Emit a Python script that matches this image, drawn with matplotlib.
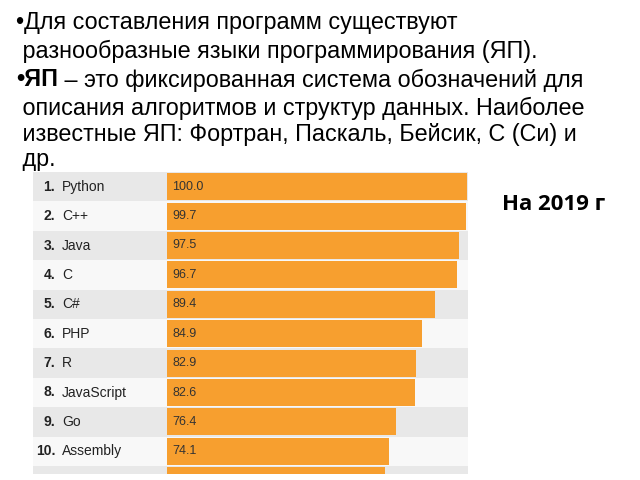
import matplotlib
matplotlib.use('Agg')
from matplotlib import pyplot as plt

# данные рейтинга языков (2019)
ranks = ['1.', '2.', '3.', '4.', '5.', '6.', '7.', '8.', '9.', '10.', '']
languages = ['Python', 'C++', 'Java', 'C', 'C#', 'PHP', 'R', 'JavaScript', 'Go', 'Assembly', '']
scores = [100.0, 99.7, 97.5, 96.7, 89.4, 84.9, 82.9, 82.6, 76.4, 74.1, 72.8]
score_labels = ['100.0', '99.7', '97.5', '96.7', '89.4', '84.9', '82.9', '82.6', '76.4', '74.1', '']

text_lines = [
    ('•Для составления программ существуют', False),
    (' разнообразные языки программирования (ЯП).', False),
    ('•ЯП', True),
    (' описания алгоритмов и структур данных. Наиболее', False),
    (' известные ЯП: Фортран, Паскаль, Бейсик, С (Си) и', False),
    (' др.', False),
]

fonts = ['Liberation Sans', 'DejaVu Sans']
bar_color = '#F79F2F'

fig = plt.figure(figsize=(6.4, 4.8), dpi=100)
fig.patch.set_facecolor('white')

# текст сверху
y_px = [22, 51, 80, 108, 135, 160]
fs = 16.8
for (txt, bold), yp in zip(text_lines, y_px):
    y = 1 - yp / 480
    if bold:
        t = fig.text(16 / 640, y, txt, fontsize=fs, fontweight='bold', family=fonts,
                     va='center', ha='left')
        fig.canvas.draw()
        bb = t.get_window_extent()
        fig.text(bb.x1 / 640, y, ' – это фиксированная система обозначений для',
                 fontsize=fs, family=fonts, va='center', ha='left')
    else:
        fig.text(16 / 640, y, txt, fontsize=fs, family=fonts, va='center', ha='left')

fig.text(554 / 640, 1 - 205 / 480, 'На 2019 г', fontsize=16, fontweight='bold',
         family=['Open Sans', 'DejaVu Sans'], va='center', ha='center')

# таблица с полосами
ax = fig.add_axes([33 / 640, 1 - 474 / 480, 435 / 640, 302 / 480])
ax.set_zorder(5)
n = len(scores)
pos = list(range(n))
for i in pos:
    ax.axhspan(i - 0.5, i + 0.5, color='#e8e8e8' if i % 2 == 0 else '#f8f8f8', lw=0, zorder=0)
ax.barh(pos, scores, height=0.92, color=bar_color, zorder=2)

for i in pos:
    ax.text(-37.2, i, ranks[i], fontsize=10, fontweight='bold', color='#222222',
            va='center', ha='right', family=fonts)
    ax.text(-34.9, i, languages[i], fontsize=10, color='#222222',
            va='center', ha='left', family=fonts)
    ax.text(1.8, i, score_labels[i], fontsize=9, color='#333333',
            va='center', ha='left', family=fonts, zorder=3)

ax.set_xlim(-44.6, 100.4)
ax.set_ylim(-0.5 + 302 / 29.4, -0.5)
ax.axis('off')

fig.savefig('out.png', dpi=100, facecolor='white')
